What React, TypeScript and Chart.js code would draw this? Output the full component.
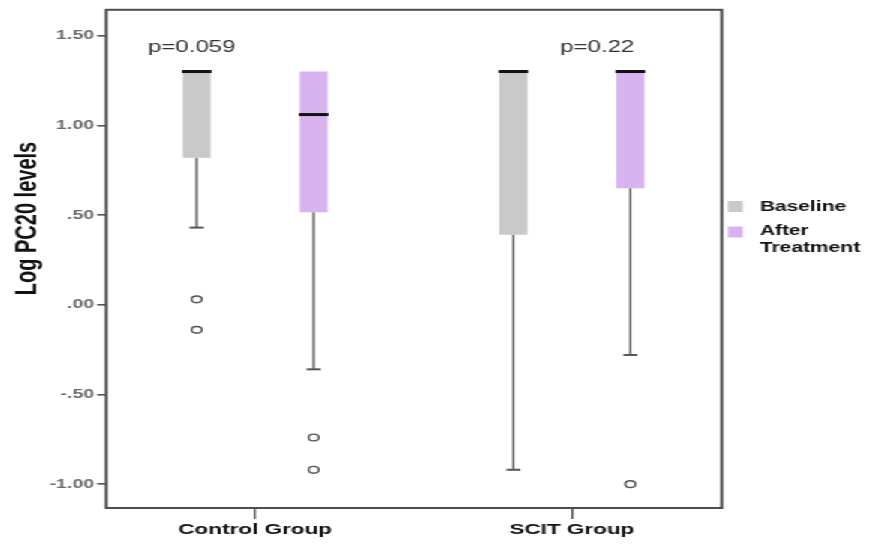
import { useEffect, useRef } from 'react';
import { Chart, registerables } from 'chart.js';

Chart.register(...registerables);

// ---------------- data ----------------
const categories = ['Control Group', 'SCIT Group'];
const seriesLabels = ['Baseline', 'After Treatment'];
const seriesColors = ['rgb(201,201,201)', 'rgb(215,180,240)'];

const baselineQ1 = [0.82, 0.39];
const baselineMedian = [1.3, 1.3];
const baselineQ3 = [1.3, 1.3];
const baselineWhiskerLow = [0.43, -0.92];
const baselineWhiskerHigh = [1.3, 1.3];
const baselineOutliers = [[0.03, -0.14], []];

const afterQ1 = [0.515, 0.65];
const afterMedian = [1.06, 1.3];
const afterQ3 = [1.3, 1.3];
const afterWhiskerLow = [-0.36, -0.28];
const afterWhiskerHigh = [1.3, 1.3];
const afterOutliers = [[-0.74, -0.92], [-1.0]];

const yTickValues = [-1, -0.5, 0, 0.5, 1, 1.5];
const yTickLabels = ['-1.00', '-.50', '.00', '.50', '1.00', '1.50'];

const pValueLabels = ['p=0.059', 'p=0.22'];
const pValueX = [0.8, 2.08];
const pValueY = [1.436, 1.436];

const yTitle = 'Log PC20 levels';

// ---------------- layout ----------------
const STRETCH = 1.5;
const W = 579;
const H = 545;

const stats = [
  { q1: baselineQ1, med: baselineMedian, q3: baselineQ3, lo: baselineWhiskerLow, hi: baselineWhiskerHigh, out: baselineOutliers },
  { q1: afterQ1, med: afterMedian, q3: afterQ3, lo: afterWhiskerLow, hi: afterWhiskerHigh, out: afterOutliers },
];

const FONT = '"Liberation Sans", Arial, sans-serif';

const boxPlugin = {
  id: 'boxplotExtras',
  beforeDatasetsDraw(chart: any) {
    const ctx = chart.ctx;
    const y = chart.scales.y;
    stats.forEach((s, di) => {
      const meta = chart.getDatasetMeta(di);
      meta.data.forEach((el: any, i: number) => {
        const cx = el.x;
        const capHalf = el.width / 4;
        const seg = (from: number, to: number) => {
          if (from === to) return;
          const y0 = y.getPixelForValue(from);
          const y1 = y.getPixelForValue(to);
          ctx.save();
          ctx.strokeStyle = '#555';
          ctx.lineWidth = 1.4;
          ctx.beginPath();
          ctx.moveTo(cx, y0);
          ctx.lineTo(cx, y1);
          ctx.stroke();
          ctx.lineWidth = 2;
          ctx.beginPath();
          ctx.moveTo(cx - capHalf, y1);
          ctx.lineTo(cx + capHalf, y1);
          ctx.stroke();
          ctx.restore();
        };
        seg(s.q1[i], s.lo[i]);
        seg(s.q3[i], s.hi[i]);
      });
    });
  },
  afterDatasetsDraw(chart: any) {
    const ctx = chart.ctx;
    const y = chart.scales.y;
    stats.forEach((s, di) => {
      const meta = chart.getDatasetMeta(di);
      meta.data.forEach((el: any, i: number) => {
        const cx = el.x;
        const w = el.width;
        const my = y.getPixelForValue(s.med[i]);
        ctx.save();
        ctx.fillStyle = '#111';
        ctx.fillRect(cx - w / 2 - 0.5, my - 1.5, w + 1, 3);
        ctx.strokeStyle = '#555';
        ctx.fillStyle = '#fff';
        ctx.lineWidth = 1.4;
        s.out[i].forEach((v) => {
          ctx.beginPath();
          ctx.arc(cx, y.getPixelForValue(v), 3.4, 0, Math.PI * 2);
          ctx.fill();
          ctx.stroke();
        });
        ctx.restore();
      });
    });
  },
  afterDraw(chart: any) {
    const ctx = chart.ctx;
    const a = chart.chartArea;
    const x = chart.scales.x;
    const y = chart.scales.y;
    ctx.save();
    // frame
    ctx.strokeStyle = '#4d4d4d';
    ctx.lineWidth = 2;
    ctx.strokeRect(a.left, a.top, a.right - a.left, a.bottom - a.top);
    // p-values
    ctx.fillStyle = '#333';
    ctx.font = `16px ${FONT}`;
    ctx.textAlign = 'center';
    ctx.textBaseline = 'middle';
    pValueLabels.forEach((t, i) => {
      ctx.fillText(t, x.getPixelForValue(pValueX[i]), y.getPixelForValue(pValueY[i]));
    });
    // y title
    ctx.save();
    ctx.translate(18.7, 218.5);
    ctx.rotate(-Math.PI / 2);
    ctx.fillStyle = '#111';
    ctx.font = `bold 20px ${FONT}`;
    ctx.textAlign = 'center';
    ctx.textBaseline = 'middle';
    ctx.fillText(yTitle, 0, 0);
    ctx.restore();
    // legend
    const lx = a.right + 4;
    const tx = a.right + 25.3;
    ctx.font = `bold 14px ${FONT}`;
    ctx.textAlign = 'left';
    ctx.textBaseline = 'middle';
    const boxTops = [201, 226.5];
    chart.data.datasets.forEach((ds: any, i: number) => {
      ctx.fillStyle = ds.backgroundColor;
      ctx.fillRect(lx, boxTops[i], 10, 11);
      ctx.fillStyle = '#111';
      const words = ds.label.split(' ');
      words.forEach((wd: string, k: number) => {
        ctx.fillText(wd, tx, boxTops[i] + 6.5 + k * 16.2 - (i === 1 ? 1.5 : 0));
      });
    });
    ctx.restore();
  },
};

export default function App() {
  const ref = useRef<HTMLCanvasElement>(null);
  useEffect(() => {
    document.body.style.overflow = 'hidden';
    Chart.defaults.font.family = FONT;
    const datasets = stats.map((s, di) => ({
      type: 'bar' as const,
      label: seriesLabels[di],
      backgroundColor: seriesColors[di],
      borderWidth: 0,
      categoryPercentage: 0.738,
      barPercentage: 0.24,
      data: categories.map((_, i) => ({ x: i + 1, y: [s.q1[i], s.q3[i]] })),
    }));
    const chart = new Chart(ref.current!, {
      type: 'bar',
      data: { datasets: datasets as any },
      plugins: [boxPlugin],
      options: {
        responsive: false,
        animation: false,
        devicePixelRatio: 1,
        layout: { padding: { top: 7, right: W - 481.33, left: 0, bottom: 0 } },
        plugins: { legend: { display: false }, tooltip: { enabled: false } },
        scales: {
          x: {
            type: 'linear',
            min: 0.53,
            max: 2.473,
            offset: false,
            afterBuildTicks: (scale: any) => {
              scale.ticks = categories.map((_, i) => ({ value: i + 1 }));
            },
            afterFit: (scale: any) => {
              scale.height = H - 508;
            },
            grid: {
              offset: false,
              drawOnChartArea: false,
              drawTicks: true,
              tickLength: 11,
              color: '#555',
              lineWidth: 1.4,
            },
            border: { display: false },
            ticks: {
              autoSkip: false,
              maxRotation: 0,
              padding: 2,
              color: '#111',
              font: { size: 15, weight: 'bold' },
              callback: (v: any) => categories[Math.round(Number(v)) - 1],
            },
          },
          y: {
            type: 'linear',
            min: -1.133,
            max: 1.644,
            afterBuildTicks: (scale: any) => {
              scale.ticks = yTickValues.map((v) => ({ value: v }));
            },
            afterFit: (scale: any) => {
              scale.width = 70.67;
            },
            grid: { drawOnChartArea: false, drawTicks: true, tickLength: 6, color: '#555', lineWidth: 1.6 },
            border: { display: false },
            ticks: {
              padding: 2,
              color: '#6a6a6a',
              font: { size: 13, weight: 'bold' },
              callback: (v: any) => {
                const k = yTickValues.findIndex((t) => Math.abs(t - Number(v)) < 1e-9);
                return k >= 0 ? yTickLabels[k] : '';
              },
            },
          },
        },
      } as any,
    });
    return () => chart.destroy();
  }, []);
  return (
    <div
      style={{
        position: 'absolute',
        left: 0,
        top: 0,
        width: W,
        height: H,
        transform: `scaleX(${STRETCH})`,
        transformOrigin: '0 0',
        background: '#fff',
      }}
    >
      <canvas ref={ref} width={W} height={H} style={{ display: 'block' }} />
    </div>
  );
}
